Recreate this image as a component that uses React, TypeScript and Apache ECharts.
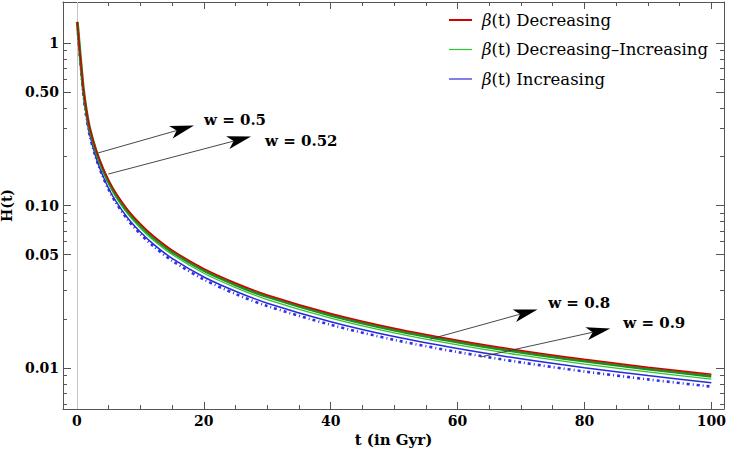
import React, { useEffect, useRef } from "react";
import * as echarts from "echarts";

// ---------- data ----------
const tValues = [0.05, 0.25, 0.5, 0.75, 1, 1.5, 2, 3, 4, 5, 6, 8, 10, 12, 15, 20, 25, 30, 40, 50, 60, 70, 80, 90, 100];
const hDecreasing = [1.35, 1.1, 0.85, 0.67, 0.53, 0.385, 0.303, 0.221, 0.174, 0.1432, 0.1218, 0.0943, 0.0772, 0.0653, 0.0532, 0.0409, 0.0334, 0.0282, 0.0217, 0.0176, 0.01485, 0.01284, 0.01132, 0.01013, 0.00915];
const hDecIncA = [1.35, 1.096, 0.845, 0.663, 0.525, 0.38, 0.299, 0.2175, 0.1709, 0.1403, 0.1194, 0.0922, 0.0754, 0.0637, 0.0519, 0.0399, 0.03257, 0.0275, 0.02116, 0.01716, 0.01448, 0.01252, 0.01104, 0.00988, 0.00892];
const hDecIncB = [1.343, 1.0835, 0.829, 0.65, 0.511, 0.3696, 0.2894, 0.21, 0.1648, 0.1353, 0.1149, 0.0888, 0.0726, 0.0614, 0.05, 0.03836, 0.0313, 0.0264, 0.02029, 0.01646, 0.01388, 0.012, 0.01058, 0.00947, 0.00855];
const hIncreasingA = [1.3365, 1.067, 0.812, 0.63, 0.493, 0.352, 0.274, 0.1978, 0.1552, 0.1274, 0.1084, 0.0839, 0.0687, 0.0581, 0.0473, 0.03636, 0.0297, 0.02507, 0.01929, 0.01563, 0.01319, 0.0114, 0.01005, 0.009, 0.00813];
const hIncreasingB = [1.33, 1.056, 0.799, 0.62, 0.482, 0.3465, 0.2706, 0.1956, 0.1531, 0.1253, 0.1062, 0.0819, 0.0668, 0.0564, 0.0458, 0.03509, 0.02859, 0.02408, 0.01847, 0.01492, 0.01256, 0.01084, 0.00953, 0.00852, 0.00769];

const xMajorTicks = [0, 20, 40, 60, 80, 100];
const xMinorTicks = [5, 10, 15, 25, 30, 35, 45, 50, 55, 65, 70, 75, 85, 90, 95];
const yMajorTicks = [0.01, 0.05, 0.1, 0.5, 1];
const yMajorLabels = ["0.01", "0.05", "0.10", "0.50", "1"];
const yMinorTicks = [0.006, 0.007, 0.008, 0.009, 0.02, 0.03, 0.04, 0.06, 0.07, 0.08, 0.09, 0.2, 0.3, 0.4, 0.6, 0.7, 0.8, 0.9];

const legendLabels = ["Decreasing", "Decreasing\u2013Increasing", "Increasing"];
const legendColors = ["#d40000", "#33c433", "#2a2ad8"];
const legendWidths = [2, 1.2, 1.2];

const annotationLabels = ["w = 0.5", "w = 0.52", "w = 0.8", "w = 0.9"];
const annotationFrom = [[3.36, 0.211], [4.94, 0.1563], [55.7, 0.01508], [63.6, 0.0117]];
const annotationTo = [[18.45, 0.3106], [27.44, 0.266], [72.6, 0.02297], [84.07, 0.01755]];
const annotationText = [[20.03, 0.336], [29.65, 0.249], [74.29, 0.02512], [86.12, 0.01892]];

const X_MIN = -2.2;
const X_MAX = 102;
const Y_MIN = 0.0056;
const Y_MAX = 1.79;
const FRAME = "#555555";
const FONT = "DejaVu Serif";

const pairs = (h: number[]) => tValues.map((t, i) => [t, h[i]]);

function xAxisDef(position: "top" | "bottom", ticks: number[], len: number, line: boolean, labels: boolean): any {
  return {
    type: "value",
    position,
    min: X_MIN,
    max: X_MAX,
    axisLine: { show: line, onZero: false, lineStyle: { color: FRAME, width: 1 } },
    axisTick: { show: true, inside: true, length: len, customValues: ticks, lineStyle: { color: FRAME, width: 1 } },
    axisLabel: labels
      ? { show: true, customValues: ticks, margin: 5, color: "#000", fontFamily: FONT, fontWeight: "bold", fontSize: 14 }
      : { show: false },
    splitLine: { show: false },
    ...(labels
      ? {
          name: "t (in Gyr)",
          nameLocation: "middle",
          nameGap: 23,
          nameTextStyle: { color: "#000", fontFamily: FONT, fontWeight: "bold", fontSize: 15 },
        }
      : {}),
  };
}

function yAxisDef(position: "left" | "right", ticks: number[], len: number, line: boolean, labels: boolean): any {
  return {
    type: "log",
    position,
    min: Y_MIN,
    max: Y_MAX,
    axisLine: { show: line, onZero: false, lineStyle: { color: FRAME, width: 1 } },
    axisTick: { show: true, inside: true, length: len, customValues: ticks, lineStyle: { color: FRAME, width: 1 } },
    axisLabel: labels
      ? {
          show: true,
          customValues: ticks,
          margin: 4,
          color: "#000",
          fontFamily: FONT,
          fontWeight: "bold",
          fontSize: 14,
          formatter: (v: number) => {
            const idx = yMajorTicks.findIndex((m) => Math.abs(m - v) / m < 1e-6);
            return idx >= 0 ? yMajorLabels[idx] : "";
          },
        }
      : { show: false },
    splitLine: { show: false },
    ...(labels
      ? {
          name: "H(t)",
          nameLocation: "middle",
          nameGap: 41,
          nameTextStyle: { color: "#000", fontFamily: FONT, fontWeight: "bold", fontSize: 14 },
        }
      : {}),
  };
}

export default function App() {
  const ref = useRef<HTMLDivElement>(null);

  useEffect(() => {
    if (!ref.current) return;
    const chart = echarts.init(ref.current, undefined, { renderer: "svg" });

    const lineSeries = (name: string, h: number[], lineStyle: any, z: number, extra: any = {}) => ({
      type: "line",
      name,
      data: pairs(h),
      smooth: 0.3,
      showSymbol: false,
      lineStyle,
      z,
      ...extra,
    });

    const option: any = {
      animation: false,
      backgroundColor: "#ffffff",
      grid: { left: 63, right: 5, top: 2, bottom: 47, containLabel: false, outerBoundsMode: "none" },
      xAxis: [
        xAxisDef("bottom", xMajorTicks, 7, true, true),
        xAxisDef("bottom", xMinorTicks, 4, false, false),
        xAxisDef("top", xMajorTicks, 7, true, false),
        xAxisDef("top", xMinorTicks, 4, false, false),
      ],
      yAxis: [
        yAxisDef("left", yMajorTicks, 8, true, true),
        yAxisDef("left", yMinorTicks, 4, false, false),
        yAxisDef("right", yMajorTicks, 8, true, false),
        yAxisDef("right", yMinorTicks, 4, false, false),
      ],
      series: [
        lineSeries("Increasing dash-dot", hIncreasingB, { color: "#3030f0", width: 2.6, type: [3, 3, 1, 3], cap: "butt" }, 2, {
          markLine: {
            silent: true,
            symbol: ["none", "none"],
            label: { show: false },
            lineStyle: { color: "#c4c4c4", width: 1, type: "solid" },
            data: [{ xAxis: 0 }],
            z: 1,
          },
        }),
        lineSeries("Increasing", hIncreasingA, { color: legendColors[2], width: 1.5 }, 3),
        lineSeries("Decreasing-Increasing B", hDecIncB, { color: legendColors[1], width: 1.3 }, 3),
        lineSeries("Decreasing-Increasing A", hDecIncA, { color: "#1f8f1f", width: 3 }, 4),
        lineSeries("Decreasing", hDecreasing, { color: legendColors[0], width: 1.5 }, 5),
      ],
    };
    chart.setOption(option);

    const toPx = (p: number[]) => chart.convertToPixel({ xAxisIndex: 0, yAxisIndex: 0 }, p) as number[];

    const graphics: any[] = [];
    // legend
    legendLabels.forEach((lab, i) => {
      const y = 20 + i * 29.5;
      graphics.push({
        type: "line",
        shape: { x1: 449, y1: y, x2: 472, y2: y },
        style: { stroke: legendColors[i], lineWidth: legendWidths[i] },
        z: 100,
      });
      graphics.push({
        type: "text",
        x: 482,
        y,
        style: {
          text: "{b|\u03b2}(t) " + lab,
          fill: "#000",
          font: `16.5px "${FONT}"`,
          verticalAlign: "middle",
          align: "left",
          rich: { b: { fontStyle: "italic", fontSize: 16.5, fontFamily: FONT, fill: "#000" } },
        },
        z: 100,
      });
    });

    // annotations with arrows
    const L = 24;
    const W = 13;
    const notch = 6;
    annotationLabels.forEach((lab, i) => {
      const a = toPx(annotationFrom[i]);
      const b = toPx(annotationTo[i]);
      const tp = toPx(annotationText[i]);
      const dx = b[0] - a[0];
      const dy = b[1] - a[1];
      const len = Math.sqrt(dx * dx + dy * dy);
      const ux = dx / len;
      const uy = dy / len;
      const nx = -uy;
      const ny = ux;
      const back = [b[0] - ux * L, b[1] - uy * L];
      const notchPt = [b[0] - ux * (L - notch), b[1] - uy * (L - notch)];
      graphics.push({
        type: "line",
        shape: { x1: a[0], y1: a[1], x2: notchPt[0], y2: notchPt[1] },
        style: { stroke: "#333", lineWidth: 0.9 },
        z: 100,
      });
      graphics.push({
        type: "polygon",
        shape: {
          points: [
            [b[0], b[1]],
            [back[0] + (nx * W) / 2, back[1] + (ny * W) / 2],
            notchPt,
            [back[0] - (nx * W) / 2, back[1] - (ny * W) / 2],
          ],
        },
        style: { fill: "#000" },
        z: 100,
      });
      graphics.push({
        type: "text",
        x: tp[0],
        y: tp[1],
        style: {
          text: lab,
          fill: "#000",
          font: `bold 15px "${FONT}"`,
          verticalAlign: "middle",
          align: "left",
        },
        z: 100,
      });
    });

    chart.setOption({ graphic: graphics });

    return () => {
      chart.dispose();
    };
  }, []);

  return (
    <div
      ref={ref}
      style={{ position: "fixed", left: 0, top: 0, width: 729, height: 456, background: "#fff" }}
    />
  );
}
